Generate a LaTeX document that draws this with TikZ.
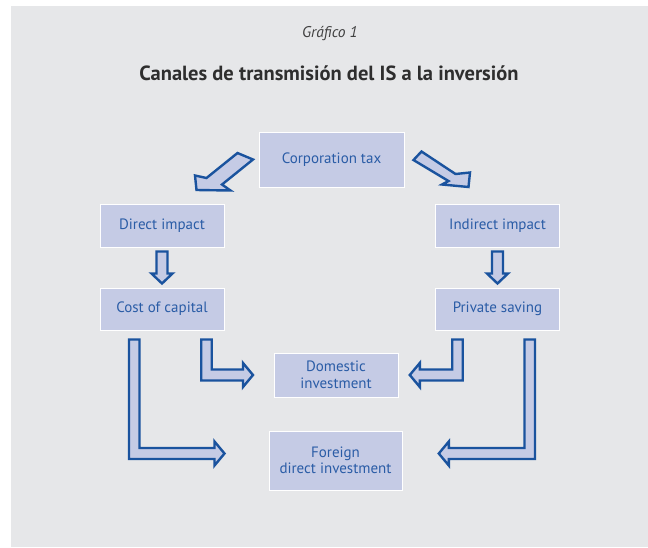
\documentclass[tikz,border=0pt]{standalone}
\usepackage{fontspec}
\setmainfont{PT Sans}
\usetikzlibrary{positioning, calc}
\definecolor{panelgray}{HTML}{E6E7E9}
\definecolor{boxfill}{HTML}{C5CBE5}
\definecolor{textblue}{HTML}{2A5CA6}
\definecolor{arrowblue}{HTML}{1A539E}
\tikzset{
  x=1pt, y=-1pt,
  node distance=40pt,
  channel/.style={draw=white, line width=1pt, fill=boxfill, text=textblue,
    font=\fontsize{15}{16.5}\selectfont, align=center, inner sep=0pt,
    minimum width=124pt, minimum height=43pt},
  blockarrow/.style={draw=arrowblue, line width=2.4pt, fill=boxfill, line join=miter},
}
% straight block arrow pointing down, from one box to the next
\newcommand{\downblock}[2]{%
  \draw[blockarrow] let \p1=($(#1.south)+(0,4)$), \p2=($(#2.north)+(0,-4)$) in
    (\x1-5.5pt,\y1) -- (\x1+5.5pt,\y1) -- (\x1+5.5pt,\y2+10pt) -- (\x1+10.5pt,\y2+10pt)
    -- (\x1,\y2) -- (\x1-10.5pt,\y2+10pt) -- (\x1-5.5pt,\y2+10pt) -- cycle;}
% bent block arrow: down, then sideways (#1 = 1 right, -1 left)
\newcommand{\bentblock}[3]{%
  \draw[blockarrow] let \p1=(#2), \p2=(#3) in
    ({\x1-(#1)*5.25pt},\y1) -- ({\x1+(#1)*5.25pt},\y1) -- ({\x1+(#1)*5.25pt},\y2+5.5pt)
    -- ({\x2-(#1)*10pt},\y2+5.5pt) -- ({\x2-(#1)*10pt},\y2+12pt) -- (\x2,\y2)
    -- ({\x2-(#1)*10pt},\y2-12pt) -- ({\x2-(#1)*10pt},\y2-5.5pt)
    -- ({\x1-(#1)*5.25pt},\y2-5.5pt) -- cycle;}

\begin{document}
\begin{tikzpicture}
  \useasboundingbox (0,0) rectangle (648,547);
  \fill[panelgray] (11,6) rectangle (648,547);

  % titles
  \node[font=\fontsize{15.5}{18}\selectfont\itshape, text=black!75] (num) at (330,33.5) {Gráfico 1};
  \node[font=\fontsize{20.5}{24}\selectfont\bfseries, text=black!82] (title) at (329,73)
    {Canales de transmisión del IS a la inversión};

  % boxes
  \node[channel, minimum width=145pt, minimum height=55pt] (ct) at (331.5,159.5) {Corporation tax};
  \node[channel] (di) at (162,225.5) {Direct impact};
  \node[channel, below=of di, minimum height=42pt] (cc) {Cost of capital};
  \node[channel, right=210.5pt of di] (ii) {Indirect impact};
  \node[channel, below=of ii, minimum height=42pt] (ps) {Private saving};
  \node[channel, minimum height=44pt] (dom) at (336,375) {Domestic\\investment};
  \node[channel, minimum width=133pt, minimum height=59pt] (fdi) at (335.5,460.5)
    {Foreign\\direct investment};

  % diagonal arrows
  \draw[blockarrow] ($(ct.west)+(-21,-6.5)$) -- ($(ct.west)+(-5.5,0)$)
    -- ($(di.north east)+(-2.5,-19)$) -- ($(di.north east)+(6,-13)$)
    -- ($(di.north east)+(-28,-13.5)$) -- ($(di.north east)+(-29.5,-28)$)
    -- ($(di.north east)+(-18,-25.5)$) -- cycle;
  \draw[blockarrow] ($(ct.east)+(9,0.5)$) -- ($(ct.east)+(17,-8)$)
    -- ($(ii.north west)+(20.5,-29.5)$) -- ($(ii.north west)+(35,-31)$)
    -- ($(ii.north west)+(33.5,-16.5)$) -- ($(ii.north west)+(7,-19)$)
    -- ($(ii.north west)+(13.5,-22.5)$) -- cycle;

  % down arrows
  \downblock{di}{cc}
  \downblock{ii}{ps}

  % bent arrows
  \coordinate (cci) at ($(cc.south east)+(-18,9)$);
  \coordinate (cco) at ($(cc.south west)+(34.7,9)$);
  \coordinate (psi) at ($(ps.south west)+(22.5,9)$);
  \coordinate (pso) at ($(ps.south east)+(-30.3,9)$);
  \coordinate (domw) at ($(dom.west)+(-20.5,0)$);
  \coordinate (dome) at ($(dom.east)+(11.3,0)$);
  \coordinate (fdiw) at ($(fdi.west)+(-44,-7)$);
  \coordinate (fdie) at ($(fdi.east)+(36.3,-7)$);
  \bentblock{1}{cci}{domw}
  \bentblock{1}{cco}{fdiw}
  \bentblock{-1}{psi}{dome}
  \bentblock{-1}{pso}{fdie}
\end{tikzpicture}
\end{document}
